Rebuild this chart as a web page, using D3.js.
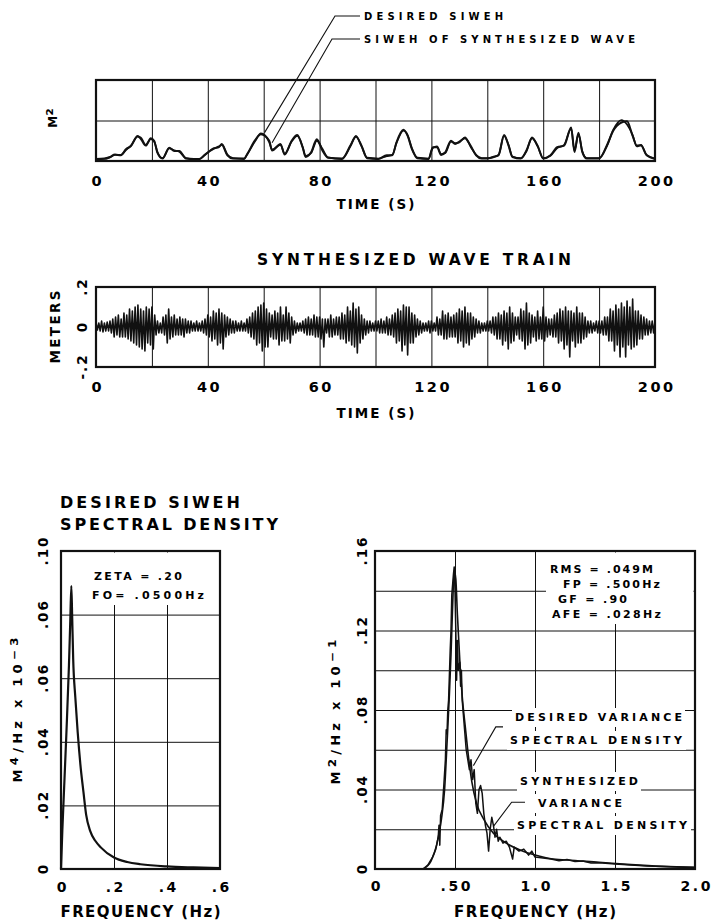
<!DOCTYPE html>
<html><head><meta charset="utf-8">
<script src="https://cdn.jsdelivr.net/npm/d3@7"></script>
<style>
body{margin:0;background:#fff;}
svg{display:block;font-family:"DejaVu Sans","Liberation Sans",Arial,sans-serif;font-weight:bold;}
</style></head><body>
<svg id="c" width="713" height="921"></svg>
<script>
// ---------- DATA ----------
// Panel 1: SIWEH (M^2) vs time
const siwehTime = [0,3,5,6.8,8.9,10.7,12.5,14.9,16,17.8,
  19.6,20.8,22,23.8,26.2,28,29.8,32.2,35,37,
  39,42,44,45,47,49,53,54,57,59,
  62,63,66,67.5,70,72,74,75,77,79,
  81,83,88,91,93,95,97,101,104,106,
  107.5,110,111.5,113,115,119,120.5,122,123.5,125,
  127,128.5,130,132,134,136,138,140,142,144,
  146,147.6,149,152,154,156,158,160,162.6,165,
  167.5,170,171.2,172.6,174,175.6,180,183,185,188,
  190,192,193.5,195,197,200];
const siwehSynth = [0.05,0.06,0.10,0.16,0.14,0.29,0.37,0.62,0.55,0.38,
  0.56,0.50,0.20,0.06,0.33,0.25,0.25,0.06,0.04,0.05,
  0.16,0.30,0.36,0.40,0.14,0.06,0.06,0.16,0.52,0.66,
  0.50,0.26,0.42,0.16,0.50,0.64,0.32,0.10,0.22,0.54,
  0.26,0.08,0.06,0.38,0.60,0.38,0.07,0.05,0.14,0.14,
  0.46,0.77,0.62,0.30,0.07,0.05,0.34,0.34,0.15,0.22,
  0.50,0.42,0.48,0.56,0.38,0.14,0.06,0.06,0.10,0.14,
  0.64,0.38,0.10,0.06,0.26,0.56,0.38,0.06,0.14,0.34,
  0.38,0.83,0.22,0.70,0.22,0.06,0.06,0.42,0.74,0.95,
  0.98,0.62,0.38,0.38,0.14,0.05];
const siwehDesired = [0.04,0.05,0.09,0.15,0.15,0.27,0.38,0.60,0.58,0.40,
  0.54,0.48,0.22,0.07,0.31,0.26,0.23,0.07,0.05,0.05,
  0.15,0.31,0.34,0.42,0.16,0.07,0.05,0.15,0.50,0.68,
  0.46,0.28,0.40,0.18,0.48,0.62,0.34,0.12,0.20,0.50,
  0.30,0.09,0.05,0.36,0.62,0.36,0.08,0.06,0.12,0.15,
  0.44,0.75,0.64,0.32,0.08,0.06,0.32,0.36,0.17,0.20,
  0.48,0.44,0.46,0.58,0.36,0.15,0.07,0.07,0.09,0.15,
  0.62,0.40,0.11,0.07,0.24,0.58,0.36,0.07,0.13,0.32,
  0.40,0.80,0.26,0.66,0.24,0.07,0.07,0.40,0.76,1.01,
  0.90,0.64,0.36,0.40,0.15,0.06];
const timeTicks = [0,40,80,120,160,200];
const siwehTimeLabels = ["0","40","80","120","160","200"];
const waveTimeLabels = ["0","40","60","120","160","200"];
const timeGrid = [20,40,60,80,100,120,140,160,180];
const siwehGrid = [1];

// Panel 2: synthesized wave train, successive crest/trough elevations (m), every 0.5 s
const waveStep = 0.5;
const waveElev = [
  0.02,-0.015,0.02,-0.02,0.03,-0.025,0.02,-0.02,0.025,-0.02,0.03,-0.03,0.04,-0.05,0.05,-0.04,0.06,-0.05,0.04,-0.05,
  0.07,-0.05,0.06,-0.06,0.09,-0.07,0.08,-0.08,0.10,-0.09,0.11,-0.10,0.09,-0.11,0.08,-0.12,0.10,-0.08,0.09,-0.09,
  0.10,-0.11,0.06,-0.04,0.03,-0.03,0.02,-0.03,0.05,-0.04,0.06,-0.08,0.09,-0.06,0.05,-0.05,0.06,-0.04,0.04,-0.04,
  0.05,-0.04,0.04,-0.05,0.04,-0.03,0.03,-0.03,0.03,-0.02,0.02,-0.02,0.03,-0.02,0.02,-0.02,0.03,-0.03,0.04,-0.04,
  0.06,-0.05,0.05,-0.07,0.08,-0.06,0.07,-0.09,0.09,-0.08,0.07,-0.11,0.06,-0.05,0.05,-0.04,0.04,-0.03,0.03,-0.03,
  0.03,-0.02,0.02,-0.02,0.03,-0.02,0.02,-0.02,0.04,-0.03,0.05,-0.05,0.07,-0.06,0.08,-0.09,0.10,-0.08,0.11,-0.12,
  0.12,-0.10,0.09,-0.10,0.07,-0.05,0.06,-0.06,0.08,-0.06,0.07,-0.09,0.10,-0.07,0.06,-0.07,0.10,-0.06,0.07,-0.08,
  0.05,-0.04,0.03,-0.03,0.02,-0.02,0.02,-0.02,0.03,-0.03,0.04,-0.04,0.05,-0.04,0.04,-0.04,0.06,-0.05,0.05,-0.05,
  0.05,-0.06,0.04,-0.10,0.04,-0.03,0.04,-0.05,0.06,-0.05,0.04,-0.04,0.05,-0.04,0.05,-0.06,0.07,-0.06,0.06,-0.08,
  0.10,-0.07,0.08,-0.09,0.12,-0.10,0.09,-0.13,0.10,-0.08,0.06,-0.06,0.04,-0.04,0.03,-0.03,0.03,-0.02,0.02,-0.02,
  0.03,-0.02,0.03,-0.03,0.04,-0.03,0.03,-0.03,0.05,-0.04,0.04,-0.04,0.06,-0.05,0.07,-0.08,0.09,-0.07,0.08,-0.12,
  0.11,-0.09,0.10,-0.14,0.10,-0.08,0.07,-0.08,0.06,-0.05,0.04,-0.04,0.03,-0.03,0.02,-0.02,0.02,-0.02,0.03,-0.03,
  0.03,-0.02,0.02,-0.02,0.05,-0.04,0.04,-0.04,0.08,-0.06,0.06,-0.06,0.07,-0.05,0.05,-0.05,0.06,-0.05,0.07,-0.08,
  0.09,-0.07,0.08,-0.10,0.10,-0.08,0.07,-0.09,0.07,-0.06,0.05,-0.05,0.04,-0.03,0.03,-0.03,0.02,-0.02,0.02,-0.02,
  0.03,-0.02,0.03,-0.03,0.05,-0.04,0.05,-0.06,0.07,-0.06,0.06,-0.09,0.08,-0.07,0.07,-0.11,0.10,-0.08,0.07,-0.07,
  0.05,-0.04,0.05,-0.06,0.09,-0.07,0.08,-0.11,0.12,-0.09,0.07,-0.08,0.06,-0.05,0.05,-0.07,0.08,-0.06,0.05,-0.06,
  0.10,-0.07,0.05,-0.05,0.04,-0.04,0.04,-0.05,0.06,-0.05,0.07,-0.08,0.09,-0.07,0.08,-0.11,0.10,-0.09,0.08,-0.15,
  0.08,-0.07,0.07,-0.10,0.10,-0.08,0.07,-0.08,0.07,-0.06,0.05,-0.05,0.03,-0.03,0.03,-0.03,0.02,-0.02,0.03,-0.03,
  0.03,-0.03,0.03,-0.04,0.05,-0.04,0.05,-0.07,0.09,-0.07,0.08,-0.12,0.11,-0.09,0.09,-0.15,0.12,-0.10,0.10,-0.15,
  0.13,-0.09,0.10,-0.11,0.14,-0.10,0.08,-0.09,0.08,-0.06,0.06,-0.06,0.05,-0.04,0.04,-0.04,0.03,-0.03,0.03,-0.03,
  0.03];
const waveYTicks = [-0.2,0,0.2];
const waveYLabels = ["-.2","0",".2"];

// Panel 3: desired SIWEH spectral density
const sdFreq  = [0,0.005,0.01,0.02,0.03,0.035,0.039,0.042,0.046,0.054,0.063,0.073,0.085,0.095,0.11,0.13,0.15,0.2,0.25,0.3,0.4,0.5,0.6];
const sdValue = [0,0.012,0.022,0.042,0.064,0.078,0.089,0.080,0.066,0.054,0.043,0.033,0.024,0.017,0.012,0.0088,0.0068,0.0036,0.0022,0.0015,0.0008,0.0005,0.0003];
const sdXTicks = [0,0.2,0.4,0.6];
const sdXLabels = ["0",".2",".4",".6"];
const sdXGrid = [0.2,0.4];
const sdYTicks = [0,0.02,0.04,0.06,0.08,0.10];
const sdYLabels = ["0",".02",".04",".06",".06",".10"];
const sdYGrid = [0.02,0.04,0.06,0.08];

// Panel 4: variance spectral density (desired and synthesized)
const vsdDesFreq  = [0.30,0.35,0.385,0.415,0.435,0.45,0.465,0.475,0.485,0.495,
  0.505,0.515,0.53,0.545,0.565,0.585,0.605,0.635,0.68,0.74,
  0.82,0.93,1.03,1.1,1.2,1.4,1.6,1.8,2.0];
const vsdDesValue = [0,0.004,0.012,0.025,0.040,0.063,0.088,0.108,0.132,0.150,
  0.146,0.128,0.105,0.087,0.071,0.056,0.044,0.033,0.025,0.018,
  0.013,0.0088,0.0064,0.0052,0.0045,0.0034,0.0022,0.0013,0.0008];
const vsdSynFreq  = [0.30,0.33,0.36,0.38,0.395,0.40,0.405,0.41,0.42,0.43,
  0.44,0.445,0.45,0.455,0.46,0.47,0.475,0.48,0.49,0.495,
  0.50,0.505,0.51,0.515,0.52,0.53,0.535,0.54,0.545,0.55,
  0.56,0.57,0.58,0.59,0.60,0.61,0.62,0.63,0.64,0.65,
  0.66,0.67,0.68,0.69,0.70,0.71,0.72,0.73,0.74,0.75,
  0.76,0.77,0.78,0.80,0.82,0.84,0.86,0.87,0.90,0.93,
  0.96,0.98,1.0,1.05,1.1,1.15,1.2,1.25,1.3,1.35,
  1.4,1.5,1.6,1.7,1.8,2.0];
const vsdSynValue = [0,0.002,0.006,0.010,0.016,0.022,0.012,0.027,0.030,0.042,
  0.055,0.070,0.068,0.080,0.085,0.110,0.120,0.138,0.148,0.152,
  0.140,0.120,0.095,0.115,0.100,0.104,0.092,0.100,0.085,0.080,
  0.070,0.060,0.055,0.050,0.055,0.045,0.050,0.033,0.028,0.040,
  0.042,0.038,0.028,0.022,0.018,0.009,0.020,0.026,0.022,0.016,
  0.020,0.014,0.016,0.013,0.014,0.011,0.005,0.011,0.009,0.010,
  0.007,0.009,0.006,0.0055,0.005,0.0042,0.0048,0.0038,0.004,0.003,
  0.0032,0.0025,0.002,0.0015,0.0012,0.0008];
const vsdXTicks = [0,0.5,1.0,1.5,2.0];
const vsdXLabels = ["0",".50","1.0","1.5","2.0"];
const vsdXGrid = [0.5,1.0,1.5];
const vsdYTicks = [0,0.04,0.08,0.12,0.16];
const vsdYLabels = ["0",".04",".08",".12",".16"];
const vsdYGrid = [0.02,0.04,0.06,0.08,0.10,0.12,0.14];

// ---------- DRAWING ----------
const svg = d3.select("#c");
svg.append("rect").attr("width",713).attr("height",921).attr("fill","#fff");
const INK = "#111";

function grid(g, x, y, xg, yg) {
  const [l, r] = x.range(), [b, t] = y.range();
  if (xg.length) g.append("g").attr("transform", `translate(0,${b})`)
    .call(d3.axisBottom(x).tickValues(xg).tickSize(-(b - t)).tickFormat(""))
    .call(a => a.select(".domain").remove())
    .selectAll("line").attr("stroke", INK).attr("stroke-width", 1);
  if (yg.length) g.append("g").attr("transform", `translate(${l},0)`)
    .call(d3.axisLeft(y).tickValues(yg).tickSize(-(r - l)).tickFormat(""))
    .call(a => a.select(".domain").remove())
    .selectAll("line").attr("stroke", INK).attr("stroke-width", 1);
}
function frame(g, x, y) {
  const [l, r] = x.range(), [b, t] = y.range();
  g.append("rect").attr("x", l).attr("y", t).attr("width", r - l).attr("height", b - t)
    .attr("fill", "none").attr("stroke", INK).attr("stroke-width", 2.2);
}
function xLabels(g, x, vals, labels, base, size, ls) {
  const ax = g.append("g").attr("transform", `translate(0,${base})`)
    .call(d3.axisBottom(x).tickValues(vals).tickFormat((d, i) => labels[i]).tickSize(0).tickPadding(0));
  ax.attr("font-size", null).attr("font-family", null);
  ax.select(".domain").remove();
  ax.selectAll("text").attr("y", 0).attr("dy", null).attr("dx", ls / 2)
    .attr("font-size", size).attr("letter-spacing", ls).attr("fill", "#000");
}
function yLabels(g, y, vals, labels, xpos, size, ls) {
  const ax = g.append("g").attr("transform", `translate(${xpos},0)`)
    .call(d3.axisLeft(y).tickValues(vals).tickFormat((d, i) => labels[i]).tickSize(0).tickPadding(0));
  ax.attr("font-size", null).attr("font-family", null);
  ax.select(".domain").remove();
  ax.selectAll("text").attr("x", 0).attr("y", 0).attr("dy", null).attr("dx", ls / 2)
    .attr("text-anchor", "middle").attr("dominant-baseline", "central")
    .attr("transform", "rotate(-90)")
    .attr("font-size", size).attr("letter-spacing", ls).attr("fill", "#000");
}
function text(g, s, x, y, size, len, anchor) {
  const t = g.append("text").attr("x", x).attr("y", y).attr("font-size", size)
    .attr("text-anchor", anchor || "start").attr("fill", "#000").text(s);
  if (len) t.attr("textLength", len).attr("lengthAdjust", "spacing");
  return t;
}
// rotated label built from parts; parts flagged true are superscripts drawn larger
function vtext(g, parts, cx, cy, size, supSize, len) {
  const t = g.append("text").attr("transform", `translate(${cx},${cy}) rotate(-90)`)
    .attr("text-anchor", "middle").attr("dominant-baseline", "central")
    .attr("font-size", size).attr("fill", "#000");
  parts.forEach(p => {
    const s = t.append("tspan").text(p[0]);
    if (p[1]) s.attr("font-size", supSize);
  });
  if (len) t.attr("textLength", len).attr("lengthAdjust", "spacing");
  return t;
}
function whiteBox(g, pad, top, bottom, right) {
  const b = g.node().getBBox();
  const y0 = top != null ? top : b.y - pad;
  const y1 = bottom != null ? bottom : b.y + b.height + pad;
  const x1 = right != null ? right : b.x + b.width + pad;
  g.insert("rect", ":first-child").attr("x", b.x - pad).attr("y", y0)
    .attr("width", x1 - (b.x - pad)).attr("height", y1 - y0).attr("fill", "#fff");
}
const poly = d3.line();

// ===== Panel 1 =====
const xT = d3.scaleLinear().domain([0, 200]).range([96, 655]);
const yS = d3.scaleLinear().domain([0, 2]).range([161, 80]);
const g1 = svg.append("g");
grid(g1, xT, yS, timeGrid, siwehGrid);
const lineS = d3.line().x((d, i) => xT(siwehTime[i])).y(d => yS(d)).curve(d3.curveMonotoneX);
g1.append("path").attr("d", lineS(siwehDesired)).attr("fill", "none").attr("stroke", INK).attr("stroke-width", 1.8);
g1.append("path").attr("d", lineS(siwehSynth)).attr("fill", "none").attr("stroke", INK).attr("stroke-width", 2);
frame(g1, xT, yS);
xLabels(g1, xT, timeTicks, siwehTimeLabels, 186, 14.5, 2.5);
text(g1, "TIME (S)", xT(100), 209, 13.5, 78, "middle");
vtext(g1, [["M"], ["²", true]], 53, 118, 12, 17);
// legend with leader lines
text(g1, "DESIRED SIWEH", 364, 20, 10, 139);
text(g1, "SIWEH OF SYNTHESIZED WAVE", 364, 43, 10, 271);
g1.append("path").attr("d", poly([[360, 16], [335, 16], [xT(60.3), yS(0.7)]]))
  .attr("fill", "none").attr("stroke", INK).attr("stroke-width", 1.1);
g1.append("path").attr("d", poly([[360, 39], [332, 39], [xT(63), yS(0.45)]]))
  .attr("fill", "none").attr("stroke", INK).attr("stroke-width", 1.1);

// ===== Panel 2 =====
const yW = d3.scaleLinear().domain([-0.2, 0.2]).range([367, 287]);
const g2 = svg.append("g");
text(g2, "SYNTHESIZED WAVE TRAIN", 257, 265, 15.5, 314);
grid(g2, xT, yW, timeGrid, []);
g2.append("clipPath").attr("id", "clipW").append("rect").attr("x", 96).attr("y", 287).attr("width", 559).attr("height", 80);
const lineW = d3.line().x((d, i) => xT(i * waveStep)).y(d => yW(d));
g2.append("path").attr("clip-path", "url(#clipW)").attr("d", lineW(waveElev))
  .attr("fill", "none").attr("stroke", INK).attr("stroke-width", 1.6).attr("stroke-linejoin", "round");
frame(g2, xT, yW);
xLabels(g2, xT, timeTicks, waveTimeLabels, 392, 14.5, 2.5);
yLabels(g2, yW, waveYTicks, waveYLabels, 82, 13.5, 2);
text(g2, "TIME (S)", xT(100), 418, 13.5, 78, "middle");
vtext(g2, [["METERS"]], 55, 327, 13.5, 13.5, 73);

// ===== Panel 3 =====
const xF1 = d3.scaleLinear().domain([0, 0.6]).range([61, 220]);
const yD1 = d3.scaleLinear().domain([0, 0.1]).range([869, 551]);
const g3 = svg.append("g");
text(g3, "DESIRED SIWEH", 60, 508, 16, 180);
text(g3, "SPECTRAL DENSITY", 60, 530, 16, 218);
grid(g3, xF1, yD1, sdXGrid, sdYGrid);
const a3 = g3.append("g");
text(a3, "ZETA = .20", 94, 580, 11, 88);
text(a3, "FO= .0500Hz", 92, 598.5, 11, 112);
whiteBox(a3, 4, 552.5, 605);
const line3 = d3.line().x((d, i) => xF1(sdFreq[i])).y(d => yD1(d)).curve(d3.curveMonotoneX);
g3.append("path").attr("d", line3(sdValue)).attr("fill", "none").attr("stroke", INK).attr("stroke-width", 2.2).attr("stroke-linejoin", "round");
frame(g3, xF1, yD1);
xLabels(g3, xF1, sdXTicks, sdXLabels, 892, 14, 2.5);
yLabels(g3, yD1, sdYTicks, sdYLabels, 43, 13.5, 2);
text(g3, "FREQUENCY (Hz)", xF1(0.3), 917, 15, 160, "middle");
vtext(g3, [["M"], ["⁴", true], ["/Hz x 10"], ["⁻³", true]], 17, 710, 13, 19, 145);

// ===== Panel 4 =====
const xF2 = d3.scaleLinear().domain([0, 2]).range([375, 695]);
const yD2 = d3.scaleLinear().domain([0, 0.16]).range([869, 551]);
const g4 = svg.append("g");
grid(g4, xF2, yD2, vsdXGrid, vsdYGrid);
const a4 = g4.append("g");
text(a4, "RMS = .049M", 550, 573, 11, 103);
text(a4, "FP = .500Hz", 563, 588, 11, 97);
text(a4, "GF = .90", 558, 603, 11, 69);
text(a4, "AFE = .028Hz", 552, 618, 11, 109);
whiteBox(a4, 4, 552.5, 624, 693.5);
[["DESIRED VARIANCE", 515, 721, 167], ["SPECTRAL DENSITY", 510, 744, 172],
 ["SYNTHESIZED", 520, 785, 118], ["VARIANCE", 538, 807, 84], ["SPECTRAL DENSITY", 517, 829, 170]]
  .forEach(r => { const gg = g4.append("g"); text(gg, r[0], r[1], r[2], 11, r[3]); whiteBox(gg, 3); });
const line4d = d3.line().x((d, i) => xF2(vsdDesFreq[i])).y(d => yD2(d)).curve(d3.curveMonotoneX);
const line4s = d3.line().x((d, i) => xF2(vsdSynFreq[i])).y(d => yD2(d));
g4.append("path").attr("d", line4d(vsdDesValue)).attr("fill", "none").attr("stroke", INK).attr("stroke-width", 1.6);
g4.append("path").attr("d", line4s(vsdSynValue)).attr("fill", "none").attr("stroke", INK).attr("stroke-width", 1.5).attr("stroke-linejoin", "round");
g4.append("path").attr("d", poly([[xF2(0.80), yD2(0.0715)], [xF2(0.755), yD2(0.0715)], [xF2(0.615), yD2(0.052)]]))
  .attr("fill", "none").attr("stroke", INK).attr("stroke-width", 1.1);
g4.append("path").attr("d", poly([[xF2(0.9375), yD2(0.0336)], [xF2(0.854), yD2(0.0336)], [xF2(0.739), yD2(0.0213)]]))
  .attr("fill", "none").attr("stroke", INK).attr("stroke-width", 1.1);
frame(g4, xF2, yD2);
xLabels(g4, xF2, vsdXTicks, vsdXLabels, 891, 14, 2.5);
yLabels(g4, yD2, vsdYTicks, vsdYLabels, 362, 13.5, 2);
text(g4, "FREQUENCY (Hz)", xF2(1.0), 917, 15, 162, "middle");
vtext(g4, [["M"], ["²", true], ["/Hz x 10"], ["⁻¹", true]], 335, 712, 13, 19, 145);
</script>
</body></html>
